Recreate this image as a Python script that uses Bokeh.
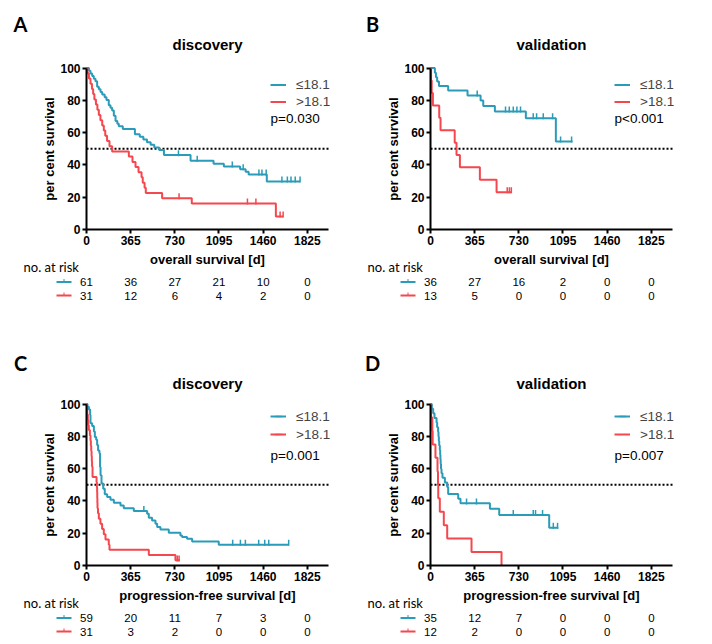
import numpy as np
from bokeh.plotting import figure
from bokeh.layouts import column, row
from bokeh.models import (ColumnDataSource, Label, LabelSet, Legend, LegendItem)
from bokeh.core.properties import value
from bokeh.embed import file_html
from bokeh.resources import INLINE

TEAL = "#2A9BB8"
RED = "#F4474E"

DAY_TICKS = [0, 365, 730, 1095, 1460, 1825]
PCT_TICKS = [0, 20, 40, 60, 80, 100]
GROUPS = ["\u226418.1", ">18.1"]
MEDIAN_LEVEL = 50
X_MAX = 2000
Y_MAX = 100

# ---------------- Panel A: discovery, overall survival ----------------
A_lo_t = [20, 33, 47, 60, 74, 88, 102, 116, 130, 150, 165, 184, 198, 212, 226, 240, 255, 267,
          300, 400, 440, 470, 500, 530, 560, 600, 640, 860, 1050, 1135, 1270, 1315, 1340, 1490]
A_lo_s = [98.4, 96.7, 95.1, 93.4, 91.8, 88.5, 86.9, 85.2, 83.6, 82.0, 80.3, 77.0, 75.4, 73.8,
          70.5, 67.2, 65.6, 63.9, 62.3, 59.0, 57.4, 55.7, 54.1, 52.5, 50.8, 49.2, 46.1, 42.6,
          40.8, 39.1, 37.4, 35.8, 34.1, 29.8]
A_lo_cens = [760, 915, 1205, 1295, 1425, 1450, 1485, 1615, 1660, 1690, 1725, 1765]
A_lo_end = 1765
A_hi_t = [8, 20, 33, 45, 55, 65, 78, 90, 102, 115, 130, 143, 155, 170, 190, 212,
          350, 380, 405, 430, 455, 465, 480, 490, 625, 870, 1565]
A_hi_s = [96.8, 93.5, 90.3, 87.1, 83.9, 80.6, 77.4, 74.2, 71.0, 67.7, 64.5, 61.3, 58.1, 54.8,
          51.6, 48.4, 45.2, 41.9, 38.7, 35.5, 32.3, 29.0, 25.8, 22.6, 19.4, 16.1, 8.1]
A_hi_cens = [765, 1330, 1400, 1600, 1625]
A_hi_end = 1625
A_risk_lo = [61, 36, 27, 21, 10, 0]
A_risk_hi = [31, 12, 6, 4, 2, 0]

# ---------------- Panel B: validation, overall survival ----------------
B_lo_t = [36, 45, 55, 70, 146, 306, 414, 436, 532, 788, 1036]
B_lo_s = [97.2, 94.4, 91.7, 88.9, 86.1, 83.0, 79.9, 76.6, 73.1, 68.9, 54.5]
B_lo_cens = [386, 620, 651, 684, 714, 744, 849, 877, 932, 1009, 1075, 1166]
B_lo_end = 1174
B_hi_t = [5, 10, 20, 72, 83, 200, 215, 243, 408, 546]
B_hi_s = [92.3, 84.6, 76.9, 69.2, 61.5, 53.8, 46.2, 38.5, 30.8, 23.1]
B_hi_cens = [634, 652, 668]
B_hi_end = 668
B_risk_lo = [36, 27, 16, 2, 0, 0]
B_risk_hi = [13, 5, 0, 0, 0, 0]

# ---------------- Panel C: discovery, progression-free survival ----------------
C_lo_t = [8, 20, 30, 33, 47, 61, 69, 80, 88, 96, 107, 112, 116, 124, 138, 151, 171, 198, 226,
          281, 308, 391, 501, 515, 542, 570, 584, 611, 680, 776, 790, 831, 873, 1093]
C_lo_s = [98.3, 96.6, 93.2, 88.1, 86.4, 83.1, 79.7, 77.9, 74.6, 71.2, 69.5, 61.0, 55.9, 50.8,
          47.5, 44.1, 42.4, 40.7, 38.9, 37.2, 35.5, 33.8, 32.1, 29.6, 27.9, 25.9, 23.8, 22.3,
          20.3, 18.6, 17.6, 16.6, 14.8, 12.9]
C_lo_cens = [474, 1208, 1272, 1313, 1423, 1473, 1506, 1671]
C_lo_end = 1671
C_hi_t = [4, 6, 11, 15, 19, 28, 33, 36, 39, 42, 44, 46, 50, 83, 86, 88, 89, 90, 91, 95, 102,
          115, 129, 143, 157, 184, 190, 515, 735]
C_hi_s = [96.8, 93.5, 90.3, 87.1, 83.9, 80.6, 77.4, 74.2, 71.0, 67.7, 64.5, 61.3, 54.8, 51.6,
          48.4, 45.2, 41.9, 38.7, 35.5, 32.3, 29.0, 25.8, 22.6, 19.4, 16.1, 12.9, 9.7, 6.5, 3.2]
C_hi_cens = [750, 765]
C_hi_end = 771
C_risk_lo = [59, 20, 11, 7, 3, 0]
C_risk_hi = [31, 3, 2, 0, 0, 0]

# ---------------- Panel D: validation, progression-free survival ----------------
D_lo_t = [11, 22, 33, 50, 55, 63, 66, 69, 72, 77, 80, 82, 84, 87, 91, 99, 119, 138, 146,
          229, 248, 491, 568, 981]
D_lo_s = [97.1, 94.3, 91.4, 88.6, 85.7, 82.9, 80.0, 77.1, 74.3, 71.4, 68.6, 65.7, 62.9, 60.0,
          57.1, 54.3, 51.4, 48.6, 44.3, 41.4, 38.5, 35.2, 31.3, 23.4]
D_lo_cens = [298, 380, 684, 849, 868, 926, 1015, 1050]
D_lo_end = 1056
D_hi_t = [5, 15, 18, 41, 58, 62, 64, 77, 110, 138, 339, 587]
D_hi_s = [91.7, 83.3, 75.0, 66.7, 58.3, 50.0, 41.7, 33.3, 25.0, 16.7, 8.3, 0.0]
D_hi_cens = []
D_hi_end = 587
D_risk_lo = [35, 12, 7, 0, 0, 0]
D_risk_hi = [12, 2, 0, 0, 0, 0]

# ---------------- layout constants (pixels) ----------------
W = 344            # panel width
L = 86             # left edge of the axes box inside a panel
T = 66             # top edge of the axes box inside a panel
AW, AH = 242, 163  # axes box size for 0..X_MAX days and 0..Y_TOP percent
Y_TOP = 101
FONT = "Liberation Sans"


def px_x(d):
    return d * X_MAX / AW


def px_y(d):
    return d * Y_TOP / AH


def km_xy(t, s, end):
    x = [0] + list(t) + [end]
    y = [float(Y_MAX)] + list(s) + [s[-1]]
    return x, y


def surv_at(x, y, times):
    x = np.asarray(x, dtype=float)
    idx = np.searchsorted(x, np.asarray(times, dtype=float), side="right") - 1
    return [y[i] for i in idx]


def make_panel(H, letter, letter_off, title, xlabel, pval, curves, risks, leg_top, item_h, p_off):
    x_range = (-px_x(L), px_x(W - L))
    y_range = (-px_y(H - T - AH), Y_TOP + px_y(T))
    p = figure(width=W, height=H, x_range=x_range, y_range=y_range,
               output_backend="svg", toolbar_location=None, min_border=0)
    p.grid.visible = False
    p.outline_line_color = None
    p.background_fill_color = "white"
    p.border_fill_color = "white"

    for ax in (p.xaxis, p.yaxis):
        ax.fixed_location = 0
        ax.axis_line_width = 2
        ax.axis_line_color = "black"
        ax.major_tick_line_width = 2
        ax.major_tick_line_color = "black"
        ax.major_tick_out = 4
        ax.major_tick_in = 0
        ax.minor_tick_line_color = None
        ax.major_label_text_font = FONT
        ax.major_label_text_font_style = "bold"
        ax.major_label_text_font_size = "12px"
        ax.major_label_text_color = "black"
        ax.major_label_standoff = 2
        ax.axis_label_text_font = FONT
        ax.axis_label_text_font_style = "bold"
        ax.axis_label_text_font_size = "13px"
        ax.axis_label_text_color = "black"
    p.xaxis.ticker = DAY_TICKS
    p.yaxis.ticker = PCT_TICKS
    p.xaxis.bounds = (0, X_MAX)
    p.yaxis.bounds = (0, Y_MAX)
    p.xaxis.axis_label = xlabel
    p.yaxis.axis_label = "per cent survival"
    p.xaxis.axis_label_standoff = 4
    p.yaxis.axis_label_standoff = 0

    # title and panel letter
    p.add_layout(Label(x=px_x(AW / 2), y=Y_TOP + px_y(letter_off[1] - 21), text=title,
                       text_font=FONT, text_font_style="bold", text_font_size="15px",
                       text_align="center", text_baseline="middle", text_color="black"))
    p.add_layout(Label(x=px_x(letter_off[0]), y=Y_TOP + px_y(letter_off[1]), text=letter,
                       text_font="Lato", text_font_style="bold", text_font_size="20px",
                       text_align="center", text_baseline="middle", text_color="black"))

    # median reference line
    p.segment(x0=[0], x1=[X_MAX], y0=[MEDIAN_LEVEL], y1=[MEDIAN_LEVEL], line_color="black",
              line_width=2, line_dash="2 2")

    items = []
    for (t, s, cens, end), color, name in zip(curves, (TEAL, RED), GROUPS):
        x, y = km_xy(t, s, end)
        r = p.step(x, y, mode="after", line_color=color, line_width=2)
        cs = [v + 1.2 for v in surv_at(x, y, cens)]
        c = p.scatter(list(cens), cs, marker="dash", angle=np.pi / 2, size=6,
                      line_color=color, line_width=1.5)
        items.append(LegendItem(label=name, renderers=[r, c]))

    leg = Legend(items=items, location=(L + 184, H - (T + leg_top + 2 * item_h)),
                 label_text_font=FONT, label_text_font_size="13.5px",
                 label_standoff=10, glyph_width=16, glyph_height=item_h,
                 label_height=item_h, spacing=0, padding=0, margin=0,
                 border_line_color=None, background_fill_alpha=0)
    p.add_layout(leg)

    p.add_layout(Label(x=px_x(184), y=Y_TOP - px_y(p_off), text=pval,
                       text_font=FONT, text_font_size="13.5px", text_baseline="middle",
                       text_color="black"))

    # number-at-risk table
    p.add_layout(Label(x=px_x(-63), y=-px_y(37.5), text="no. at risk", text_font="Lato",
                       text_font_size="13px", text_baseline="middle", text_color="black"))
    for k, (counts, color) in enumerate(zip(risks, (TEAL, RED))):
        yy = -px_y(52.5 + 13.5 * k)
        src = ColumnDataSource(dict(x=DAY_TICKS, y=[yy] * len(DAY_TICKS),
                                    text=[str(v) for v in counts]))
        p.add_layout(LabelSet(x="x", y="y", text="text", source=src,
                              text_font=value(FONT), text_font_size=value("11.5px"),
                              text_align="center", text_baseline="middle",
                              text_color="black"))
        p.segment(x0=[px_x(-30)], x1=[px_x(-15)], y0=[yy], y1=[yy],
                  line_color=color, line_width=2)
        p.segment(x0=[px_x(-22.5)], x1=[px_x(-22.5)], y0=[yy], y1=[yy + px_y(3)],
                  line_color=color, line_width=1)
    return p


pA = make_panel(336, "A", (-66, 43), "discovery", "overall survival [d]", "p=0.030",
                [(A_lo_t, A_lo_s, A_lo_cens, A_lo_end), (A_hi_t, A_hi_s, A_hi_cens, A_hi_end)],
                [A_risk_lo, A_risk_hi], 9.5, 17, 52)
pB = make_panel(336, "B", (-58, 43), "validation", "overall survival [d]", "p<0.001",
                [(B_lo_t, B_lo_s, B_lo_cens, B_lo_end), (B_hi_t, B_hi_s, B_hi_cens, B_hi_end)],
                [B_risk_lo, B_risk_hi], 9.5, 17, 52)
pC = make_panel(304, "C", (-66, 40), "discovery", "progression-free survival [d]", "p=0.001",
                [(C_lo_t, C_lo_s, C_lo_cens, C_lo_end), (C_hi_t, C_hi_s, C_hi_cens, C_hi_end)],
                [C_risk_lo, C_risk_hi], 5, 18, 53)
pD = make_panel(304, "D", (-58, 40), "validation", "progression-free survival [d]", "p=0.007",
                [(D_lo_t, D_lo_s, D_lo_cens, D_lo_end), (D_hi_t, D_hi_s, D_hi_cens, D_hi_end)],
                [D_risk_lo, D_risk_hi], 5, 18, 53)

layout = column(row(pA, pB), row(pC, pD))
open("out.html", "w").write(file_html(layout, INLINE))
